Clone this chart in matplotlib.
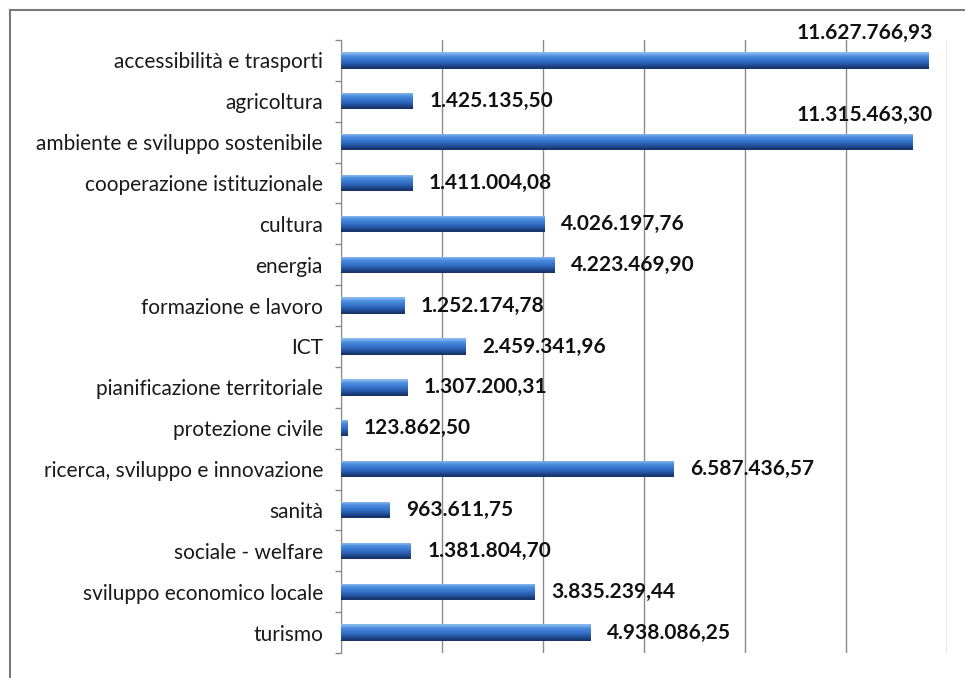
import numpy as np
import matplotlib.pyplot as plt
from matplotlib.lines import Line2D

categorie = [
    "accessibilità e trasporti",
    "agricoltura",
    "ambiente e sviluppo sostenibile",
    "cooperazione istituzionale",
    "cultura",
    "energia",
    "formazione e lavoro",
    "ICT",
    "pianificazione territoriale",
    "protezione civile",
    "ricerca, sviluppo e innovazione",
    "sanità",
    "sociale - welfare",
    "sviluppo economico locale",
    "turismo",
]
importi = [
    11627766.93, 1425135.50, 11315463.30, 1411004.08, 4026197.76,
    4223469.90, 1252174.78, 2459341.96, 1307200.31, 123862.50,
    6587436.57, 963611.75, 1381804.70, 3835239.44, 4938086.25,
]

def fmt_it(v):
    s = f"{v:,.2f}"
    return s.replace(",", "X").replace(".", ",").replace("X", ".")

plt.rcParams['font.family'] = ['Lato', 'DejaVu Sans']

fig = plt.figure(figsize=(9.65, 6.78), dpi=100)
ax = fig.add_axes([0.3534, 0.0369, 0.9813 - 0.3534, 0.941 - 0.0369])

n = len(categorie)
y = np.arange(n)
h = 0.4
bars = ax.barh(y, importi, height=h, color='#3a78c8', zorder=3)

# shaded fill, light on top and dark at the bottom
grad = np.array([
    [0.55, 0.74, 0.94],
    [0.30, 0.56, 0.87],
    [0.25, 0.51, 0.84],
    [0.21, 0.45, 0.79],
    [0.17, 0.38, 0.71],
    [0.13, 0.30, 0.58],
    [0.09, 0.20, 0.40],
]).reshape(7, 1, 3)
for b in bars:
    x0, yb = b.get_x(), b.get_y()
    w, hh = b.get_width(), b.get_height()
    im = ax.imshow(grad, extent=(x0, x0 + w, yb + hh, yb), aspect='auto',
                   interpolation='bicubic', zorder=4)
    im.set_clip_path(b)

ax.set_xlim(0, 12e6)
ax.set_ylim(n - 0.5, -0.5)
ax.set_xticks(np.arange(0, 12e6 + 1, 2e6))
ax.xaxis.grid(True, color='#8a8a8a', linewidth=1.0, zorder=0)
ax.tick_params(axis='x', length=0, labelbottom=False)

ax.set_yticks(y)
ax.set_yticklabels(categorie, fontsize=15, color='#1a1a1a')
ax.set_yticks(np.arange(-0.5, n, 1), minor=True)
ax.tick_params(axis='y', which='major', length=0, pad=13)
ax.tick_params(axis='y', which='minor', length=4, color='#8a8a8a', width=1)

for s in ['top', 'right', 'bottom']:
    ax.spines[s].set_visible(False)
ax.spines['left'].set_color('#8a8a8a')

for yi, v in zip(y, importi):
    if v > 10e6:
        ax.annotate(fmt_it(v), xy=(0.977, yi - 0.66), xycoords=('axes fraction', 'data'),
                    ha='right', va='center', fontsize=15, fontweight='bold', color='#111111')
    else:
        ax.annotate(fmt_it(v), xy=(v, yi), xytext=(12, 0), textcoords='offset points',
                    ha='left', va='center', fontsize=15, fontweight='bold', color='#111111')

# border of the chart area
fig.add_artist(Line2D([0.0104, 0.0104], [0, 1 - 10 / 678], transform=fig.transFigure,
                      color='#7a7a7a', linewidth=1.5))
fig.add_artist(Line2D([0.0104, 1], [1 - 10 / 678, 1 - 10 / 678], transform=fig.transFigure,
                      color='#7a7a7a', linewidth=1.5))

fig.savefig('out.png', dpi=100)
